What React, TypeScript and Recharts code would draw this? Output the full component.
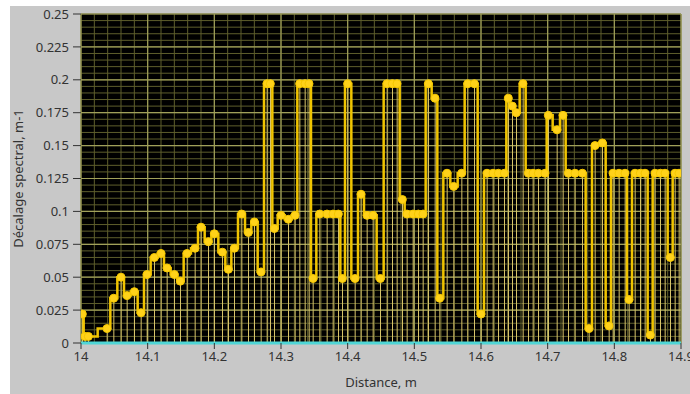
import {
  ComposedChart,
  Bar,
  Line,
  XAxis,
  YAxis,
  CartesianGrid,
  ReferenceLine,
  Label,
} from 'recharts';

// distance (m) and spectral shift (m-1)
const distance = [
  14.002, 14.006, 14.011, 14.039, 14.049, 14.06, 14.069, 14.08, 14.09, 14.099,
  14.11, 14.12, 14.129, 14.14, 14.149, 14.159, 14.171, 14.18, 14.191, 14.2,
  14.212, 14.221, 14.23, 14.241, 14.251, 14.26, 14.27, 14.279, 14.284, 14.29,
  14.3, 14.311, 14.321, 14.328, 14.336, 14.342, 14.348, 14.358, 14.369, 14.378,
  14.386, 14.392, 14.4, 14.411, 14.42, 14.429, 14.438, 14.449, 14.459, 14.467,
  14.474, 14.482, 14.489, 14.498, 14.506, 14.513, 14.521, 14.531, 14.538, 14.549,
  14.559, 14.571, 14.58, 14.59, 14.6, 14.609, 14.618, 14.626, 14.635, 14.641,
  14.647, 14.653, 14.663, 14.671, 14.678, 14.686, 14.696, 14.701, 14.714, 14.723,
  14.731, 14.741, 14.752, 14.762, 14.771, 14.782, 14.792, 14.798, 14.807, 14.816,
  14.822, 14.831, 14.839, 14.846, 14.854, 14.861, 14.869, 14.876, 14.884, 14.891,
  14.897,
];

const shift = [
  0.022, 0.005, 0.005, 0.011, 0.034, 0.05, 0.036, 0.039, 0.023, 0.052,
  0.065, 0.068, 0.057, 0.052, 0.047, 0.068, 0.072, 0.088, 0.077, 0.083,
  0.069, 0.056, 0.072, 0.098, 0.084, 0.092, 0.054, 0.197, 0.197, 0.087,
  0.097, 0.094, 0.097, 0.197, 0.197, 0.197, 0.049, 0.098, 0.098, 0.098,
  0.098, 0.049, 0.197, 0.049, 0.113, 0.097, 0.097, 0.049, 0.197, 0.197,
  0.197, 0.109, 0.098, 0.098, 0.098, 0.098, 0.197, 0.186, 0.034, 0.129,
  0.119, 0.129, 0.197, 0.197, 0.022, 0.129, 0.129, 0.129, 0.129, 0.186,
  0.18, 0.175, 0.197, 0.129, 0.129, 0.129, 0.129, 0.173, 0.162, 0.173,
  0.129, 0.129, 0.129, 0.011, 0.15, 0.152, 0.013, 0.129, 0.129, 0.129,
  0.033, 0.129, 0.129, 0.129, 0.006, 0.129, 0.129, 0.129, 0.065, 0.129,
  0.129,
];

const X_DOMAIN = [14, 14.9];
const Y_DOMAIN = [0, 0.25];
const xTicks = [14, 14.1, 14.2, 14.3, 14.4, 14.5, 14.6, 14.7, 14.8, 14.9];
const yTicks = [0, 0.025, 0.05, 0.075, 0.1, 0.125, 0.15, 0.175, 0.2, 0.225, 0.25];

// minor grid: 5 divisions per major step
const xMinor = Array.from({ length: 46 }, (_, i) => +(14 + i * 0.02).toFixed(3));
const yMinor = Array.from({ length: 51 }, (_, i) => +(i * 0.005).toFixed(3));

const data = distance.map((x, i) => ({ x, y: shift[i] }));

const FONT = '"Noto Sans", "Open Sans", sans-serif';

// use the axis scale when it is there, otherwise map through the plot offset
const scaleOf = (axis: any) => {
  const s = axis?.scale;
  if (typeof s === 'function') return (v: number) => s(v);
  if (s && typeof s.map === 'function') return (v: number) => s.map(v);
  return null;
};

const gridX = (vals: number[]) => ({ xAxis, offset }: any) => {
  const s = scaleOf(xAxis);
  if (s) return vals.map(s);
  return vals.map(
    (v) => offset.left + ((v - X_DOMAIN[0]) / (X_DOMAIN[1] - X_DOMAIN[0])) * offset.width,
  );
};

const gridY = (vals: number[]) => ({ yAxis, offset }: any) => {
  const s = scaleOf(yAxis);
  if (s) return vals.map(s);
  return vals.map(
    (v) => offset.top + (1 - (v - Y_DOMAIN[0]) / (Y_DOMAIN[1] - Y_DOMAIN[0])) * offset.height,
  );
};

const YTitle = ({ viewBox }: any) => {
  const cx = viewBox.x + 18;
  const cy = viewBox.y + viewBox.height / 2;
  return (
    <text
      x={cx}
      y={cy}
      transform={`rotate(-90, ${cx}, ${cy})`}
      textAnchor="middle"
      dominantBaseline="central"
      fill="#333"
      fontSize={13}
      fontFamily={FONT}
    >
      Décalage spectral, m-1
    </text>
  );
};

export default function App() {
  return (
    <div
      style={{
        position: 'absolute',
        left: 0,
        top: 0,
        width: 690,
        height: 394,
        background: '#ffffff',
        overflow: 'hidden',
      }}
    >
      <div
        style={{
          position: 'absolute',
          left: 10,
          top: 6,
          right: 0,
          bottom: 0,
          background: '#c8c8c8',
        }}
      />
      <div style={{ position: 'absolute', left: 0, top: 0 }}>
        <ComposedChart
          width={690}
          height={394}
          data={data}
          margin={{ top: 14, right: 9, bottom: 21, left: 0 }}
        >
          <CartesianGrid
            stroke="#5e5e2c"
            strokeWidth={1}
            fill="#000000"
            fillOpacity={1}
            verticalCoordinatesGenerator={gridX(xMinor)}
            horizontalCoordinatesGenerator={gridY(yMinor)}
          />
          <CartesianGrid
            stroke="#a0a05a"
            strokeWidth={1.2}
            verticalCoordinatesGenerator={gridX(xTicks)}
            horizontalCoordinatesGenerator={gridY(yTicks)}
          />
          <XAxis
            type="number"
            dataKey="x"
            domain={X_DOMAIN}
            ticks={xTicks}
            allowDataOverflow
            height={30}
            axisLine={false}
            tickSize={6}
            tickMargin={3}
            tickLine={{ stroke: '#333' }}
            tick={{ fill: '#333', fontSize: 13, fontFamily: FONT }}
            interval={0}
          >
            <Label
              value="Distance, m"
              position="bottom"
              offset={5}
              fill="#333"
              fontSize={13}
              fontFamily={FONT}
            />
          </XAxis>
          <YAxis
            type="number"
            domain={Y_DOMAIN}
            ticks={yTicks}
            allowDataOverflow
            width={81}
            axisLine={false}
            tickSize={8}
            tickMargin={4}
            tickLine={{ stroke: '#333' }}
            tick={{ fill: '#333', fontSize: 13, fontFamily: FONT }}
            interval={0}
            label={<YTitle />}
          />
          <Bar dataKey="y" barSize={1} fill="#d8c46a" isAnimationActive={false} />
          <Line
            type="step"
            dataKey="y"
            stroke="#f0c400"
            strokeWidth={2.5}
            dot={{ r: 4, fill: '#ffd21a', stroke: '#f5c800', strokeWidth: 1 }}
            activeDot={false}
            isAnimationActive={false}
          />
          <ReferenceLine y={0} stroke="#4fd6d6" strokeWidth={3} />
        </ComposedChart>
      </div>
    </div>
  );
}
